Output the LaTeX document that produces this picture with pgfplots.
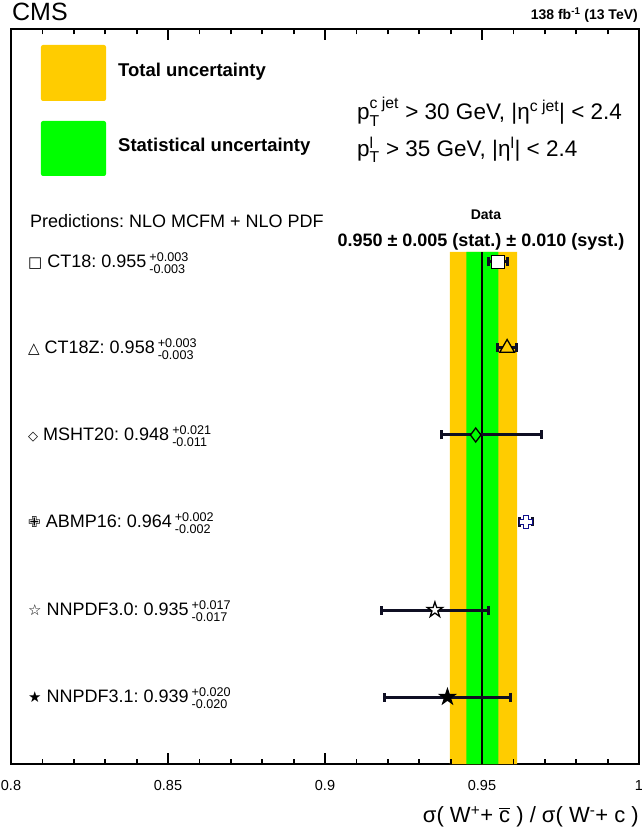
\documentclass[border=0pt]{standalone}
\usepackage{fontspec}
\setmainfont{Liberation Sans}
\newfontfamily\symfont{DejaVu Sans}
\usepackage{amsmath}
\usepackage{pgfplots}
\pgfplotsset{compat=1.18}
\usetikzlibrary{calc}
\frenchspacing

\definecolor{totY}{RGB}{255,204,0}
\definecolor{statG}{RGB}{0,255,0}
\definecolor{errc}{RGB}{15,15,35}
\definecolor{navy}{RGB}{15,15,140}

% outlined cross (ROOT marker 28 look-alike)
\pgfdeclareplotmark{ocross}{%
  \pgfpathmoveto{\pgfqpoint{-0.35\pgfplotmarksize}{\pgfplotmarksize}}%
  \pgfpathlineto{\pgfqpoint{0.35\pgfplotmarksize}{\pgfplotmarksize}}%
  \pgfpathlineto{\pgfqpoint{0.35\pgfplotmarksize}{0.35\pgfplotmarksize}}%
  \pgfpathlineto{\pgfqpoint{\pgfplotmarksize}{0.35\pgfplotmarksize}}%
  \pgfpathlineto{\pgfqpoint{\pgfplotmarksize}{-0.35\pgfplotmarksize}}%
  \pgfpathlineto{\pgfqpoint{0.35\pgfplotmarksize}{-0.35\pgfplotmarksize}}%
  \pgfpathlineto{\pgfqpoint{0.35\pgfplotmarksize}{-\pgfplotmarksize}}%
  \pgfpathlineto{\pgfqpoint{-0.35\pgfplotmarksize}{-\pgfplotmarksize}}%
  \pgfpathlineto{\pgfqpoint{-0.35\pgfplotmarksize}{-0.35\pgfplotmarksize}}%
  \pgfpathlineto{\pgfqpoint{-\pgfplotmarksize}{-0.35\pgfplotmarksize}}%
  \pgfpathlineto{\pgfqpoint{-\pgfplotmarksize}{0.35\pgfplotmarksize}}%
  \pgfpathlineto{\pgfqpoint{-0.35\pgfplotmarksize}{0.35\pgfplotmarksize}}%
  \pgfpathclose
  \pgfusepathqfillstroke
}
% five-pointed star
\pgfdeclareplotmark{pstar}{%
  \pgfpathmoveto{\pgfqpoint{0pt}{\pgfplotmarksize}}%
  \pgfpathlineto{\pgfqpoint{-0.2245\pgfplotmarksize}{0.309\pgfplotmarksize}}%
  \pgfpathlineto{\pgfqpoint{-0.951\pgfplotmarksize}{0.309\pgfplotmarksize}}%
  \pgfpathlineto{\pgfqpoint{-0.363\pgfplotmarksize}{-0.118\pgfplotmarksize}}%
  \pgfpathlineto{\pgfqpoint{-0.588\pgfplotmarksize}{-0.809\pgfplotmarksize}}%
  \pgfpathlineto{\pgfqpoint{0pt}{-0.382\pgfplotmarksize}}%
  \pgfpathlineto{\pgfqpoint{0.588\pgfplotmarksize}{-0.809\pgfplotmarksize}}%
  \pgfpathlineto{\pgfqpoint{0.363\pgfplotmarksize}{-0.118\pgfplotmarksize}}%
  \pgfpathlineto{\pgfqpoint{0.951\pgfplotmarksize}{0.309\pgfplotmarksize}}%
  \pgfpathlineto{\pgfqpoint{0.2245\pgfplotmarksize}{0.309\pgfplotmarksize}}%
  \pgfpathclose
  \pgfusepathqfillstroke
}

\pgfplotsset{
  pred/.style={only marks,
    error bars/x dir=both, error bars/x explicit,
    error bars/error mark=|,
    error bars/error bar style={line width=3bp, draw=errc, solid},
    error bars/error mark options={draw=errc, line width=2.8bp, mark size=4.5bp}},
  omark/.style={mark options={fill=#1, draw=black, line width=1.3bp}},
  omark/.default=white,
  tk/.style={draw=black, line width=1.8bp, forget plot, no markers},
}

\newcommand{\fs}[1]{\fontsize{#1bp}{#1bp}\selectfont}

\begin{document}
\begin{tikzpicture}
\begin{axis}[
    name=ax,
    scale only axis,
    width=628bp, height=735bp,
    xmin=0.8, xmax=1, ymin=0, ymax=735,
    xtick={0.8,0.85,0.9,0.95,1},
    xticklabels={0.8,0.85,0.9,0.95,1},
    minor x tick num=4,
    ytick=\empty,
    major tick length=11bp, minor tick length=5.5bp,
    tick style={draw=black, line width=1.8bp},
    axis line style={line width=1.6bp},
    xticklabel style={font=\fs{14.5}, yshift=-13bp},
    /pgf/number format/assume math mode=true,
]
% data bands
\addplot[fill=totY, draw=none] coordinates {(0.9398,0) (0.9398,512) (0.9612,512) (0.9612,0)} \closedcycle;
\addplot[fill=statG, draw=none] coordinates {(0.9450,0) (0.9450,512) (0.9552,512) (0.9552,0)} \closedcycle;
\addplot[black, line width=1.5bp] coordinates {(0.950,0) (0.950,512)};

% tick marks, bottom and top (y unit = 1bp)
\pgfplotsinvokeforeach{0.85,0.9}{
  \addplot[tk] coordinates {(#1,0) (#1,11)};
  \addplot[tk] coordinates {(#1,724) (#1,735)};
}
\addplot[tk] coordinates {(0.95,724) (0.95,735)};
\pgfplotsinvokeforeach{0.81,0.82,0.83,0.84,0.86,0.87,0.88,0.89,0.91,0.92,0.93,0.94,0.96,0.97,0.98,0.99}{
  \addplot[tk] coordinates {(#1,0) (#1,5.5)};
  \addplot[tk] coordinates {(#1,729.5) (#1,735)};
}

% predictions
\addplot[pred, omark, mark=square*, mark size=6.5bp] coordinates {(0.955,502) +- (0.003,0)};
\addplot[pred, omark=totY, mark=triangle*, mark size=8.5bp] coordinates {(0.958,416) +- (0.003,0)};
\addplot[pred, omark=statG, mark=diamond*, mark size=7bp] coordinates {(0.948,329) += (0.021,0) -= (0.011,0)};
\addplot[pred, mark=ocross, mark size=6.5bp, mark options={fill=white, draw=navy, line width=1.3bp}] coordinates {(0.964,242) +- (0.002,0)};
\addplot[pred, omark, mark=pstar, mark size=8bp] coordinates {(0.935,154) +- (0.017,0)};
\addplot[pred, omark=black, mark=pstar, mark size=8bp] coordinates {(0.939,67) +- (0.020,0)};
\end{axis}

\begin{scope}[shift={($(ax.north west)+(-11bp,29bp)$)}, x=1bp, y=-1bp]
  \node[anchor=west, inner sep=0] at (12,12) {\fs{25}CMS};
  \node[anchor=east, inner sep=0] at (638,15) {\fs{14}\bfseries 138 fb$^{\text{-1}}$ (13 TeV)};

  \fill[totY, rounded corners=2bp] (41,45) rectangle (106,101);
  \fill[statG, rounded corners=2bp] (41,121) rectangle (106,176);
  \node[anchor=west, inner sep=0] at (118,72) {\fs{18.5}\bfseries Total uncertainty};
  \node[anchor=west, inner sep=0] at (118,147) {\fs{18.5}\bfseries Statistical uncertainty};

  \node[anchor=west, inner sep=0] at (357,112) {\fs{22.5}p$^{\text{c jet}}_{\text{T}}$ > 30 GeV, |η$^{\text{c jet}}$| < 2.4};
  \node[anchor=west, inner sep=0] at (357,150) {\fs{22.5}p$^{\text{l}}_{\text{T}}$ > 35 GeV, |η$^{\text{l}}$| < 2.4};

  \node[anchor=west, inner sep=0] at (30,221) {\fs{18}Predictions: NLO MCFM + NLO PDF};
  \node[inner sep=0] at (486,215) {\fs{14}\bfseries Data};
  \node[inner sep=0] at (481,242) {\fs{18}\bfseries 0.950 ± 0.005 (stat.) ± 0.010 (syst.)};

  \node[anchor=west, inner sep=0] at (28,263) {\fs{18}{\symfont\fs{15}□} CT18: 0.955\,$^{\text{+0.003}}_{\text{-0.003}}$};
  \node[anchor=west, inner sep=0] at (28,349) {\fs{18}{\symfont\fs{15}△} CT18Z: 0.958\,$^{\text{+0.003}}_{\text{-0.003}}$};
  \node[anchor=west, inner sep=0] at (28,436) {\fs{18}{\symfont\fs{13}◇} MSHT20: 0.948\,$^{\text{+0.021}}_{\text{-0.011}}$};
  \node[anchor=west, inner sep=0] at (28,523) {\fs{18}{\symfont\fs{15}✙} ABMP16: 0.964\,$^{\text{+0.002}}_{\text{-0.002}}$};
  \node[anchor=west, inner sep=0] at (28,611) {\fs{18}{\symfont\fs{15}☆} NNPDF3.0: 0.935\,$^{\text{+0.017}}_{\text{-0.017}}$};
  \node[anchor=west, inner sep=0] at (28,698) {\fs{18}{\symfont\fs{15}★} NNPDF3.1: 0.939\,$^{\text{+0.020}}_{\text{-0.020}}$};

  \node[anchor=east, inner sep=0] at (639,817) {\fs{22}σ( W$^{\text{+}}$+ $\overline{\text{c}}$ ) / σ( W$^{\text{-}}$+ c )};
\end{scope}

\pgfresetboundingbox
\path ($(ax.north west)+(-11bp,29bp)$) rectangle ++(642bp,-827bp);
\end{tikzpicture}
\end{document}
